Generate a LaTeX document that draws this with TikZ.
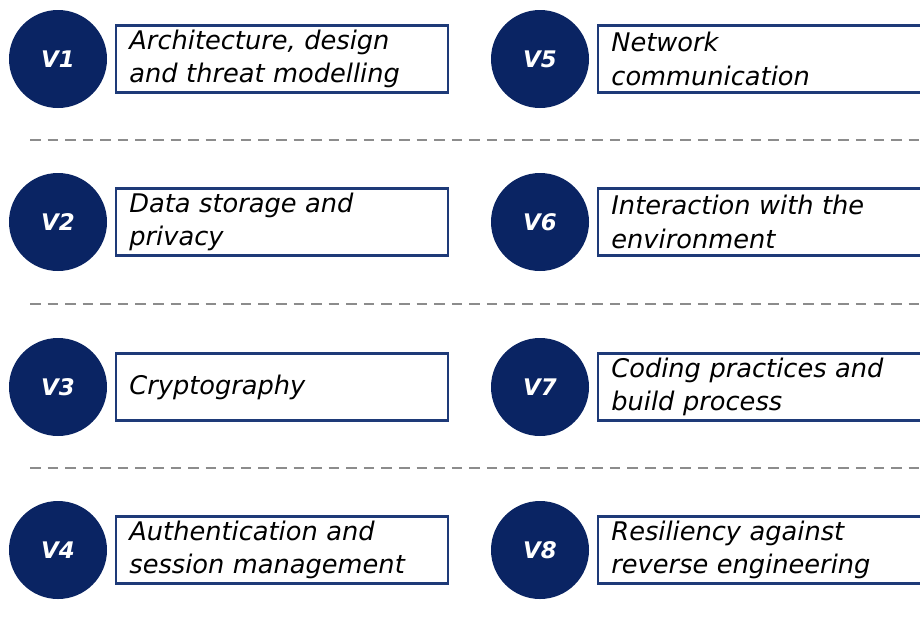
\documentclass[tikz,border=0pt]{standalone}
\usepackage{fontspec}
\usepackage{tikz}
\usetikzlibrary{positioning}

\newfontfamily\verdfont{DejaVu Sans}
\definecolor{navy}{HTML}{0A2463}
\definecolor{boxline}{HTML}{1E3A78}
\definecolor{sepgray}{HTML}{8C8C8C}

\tikzset{
  vbadge/.style={circle, fill=navy, minimum size=1.96cm, inner sep=0pt,
    text=white, font=\verdfont\bfseries\itshape\fontsize{13}{15}\selectfont},
  vbox/.style={draw=boxline, line width=1.2pt, text width=6.12cm, inner xsep=0.26cm,
    inner ysep=0.05cm, minimum height=1.34cm, align=left, right=0.16cm of #1,
    font=\verdfont\itshape\fontsize{14.6}{19}\selectfont},
  sep/.style={sepgray, line width=1pt, dash pattern=on 6pt off 4pt}
}

\begin{document}
\begin{tikzpicture}
  \clip (0,0) rectangle (18.4,12.6);

  % Left column
  \node[vbadge] (v1) at (1.16, 11.42) {V1};
  \node[vbox=v1] (t1) {Architecture, design\\and threat modelling};

  \node[vbadge] (v2) at (1.16, 8.16) {V2};
  \node[vbox=v2] (t2) {Data storage and\\privacy};

  \node[vbadge] (v3) at (1.16, 4.86) {V3};
  \node[vbox=v3] (t3) {Cryptography};

  \node[vbadge] (v4) at (1.16, 1.60) {V4};
  \node[vbox=v4] (t4) {Authentication and\\session management};

  % Right column
  \node[vbadge] (v5) at (10.8, 11.42) {V5};
  \node[vbox=v5] (t5) {Network\\communication};

  \node[vbadge] (v6) at (10.8, 8.16) {V6};
  \node[vbox=v6] (t6) {Interaction with the\\environment};

  \node[vbadge] (v7) at (10.8, 4.86) {V7};
  \node[vbox=v7] (t7) {Coding practices and\\build process};

  \node[vbadge] (v8) at (10.8, 1.60) {V8};
  \node[vbox=v8] (t8) {Resiliency against\\reverse engineering};

  % Separators between the rows
  \draw[sep] (0.6, 9.80) -- (18.4, 9.80);
  \draw[sep] (0.6, 6.52) -- (18.4, 6.52);
  \draw[sep] (0.6, 3.24) -- (18.4, 3.24);
\end{tikzpicture}
\end{document}
